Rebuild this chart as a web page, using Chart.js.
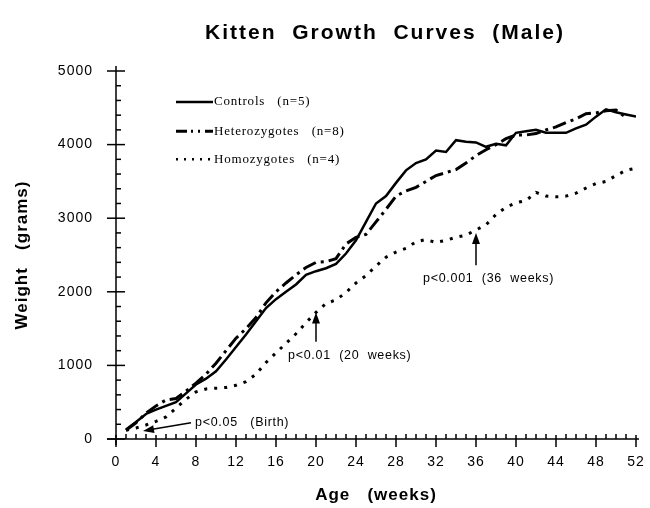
<!DOCTYPE html>
<html>
<head>
<meta charset="utf-8">
<script src="https://cdn.jsdelivr.net/npm/chart.js@4.4.1/dist/chart.umd.min.js"></script>
<style>
  body { margin: 0; background: #fff; }
</style>
</head>
<body>
<canvas id="chart" width="650" height="508"></canvas>
<script>
var weeks = [1, 2, 3, 4, 5, 6, 7, 8, 9, 10, 11, 12, 13, 14, 15, 16, 17, 18, 19, 20, 21, 22, 23, 24, 25, 26,
             27, 28, 29, 30, 31, 32, 33, 34, 35, 36, 37, 38, 39, 40, 41, 42, 43, 44, 45, 46, 47, 48, 49, 50, 51, 52];

var controls = [130, 230, 340, 400, 450, 500, 620, 740, 820, 920, 1080, 1250, 1420, 1600, 1780, 1900, 2000,
                2100, 2230, 2280, 2320, 2380, 2520, 2700, 2950, 3200, 3300, 3480, 3650, 3750, 3800, 3920,
                3900, 4060, 4040, 4030, 3970, 4010, 3990, 4160, 4180, 4200, 4160, 4160, 4160, 4220, 4270,
                4380, 4480, 4440, 4410, 4380];

var heterozygotes = [120, 220, 350, 450, 530, 550, 650, 760, 880, 1030, 1200, 1370, 1500, 1650, 1850, 2000,
                     2120, 2230, 2330, 2400, 2410, 2450, 2650, 2740, 2780, 2950, 3120, 3300, 3370, 3420, 3500,
                     3580, 3620, 3660, 3750, 3850, 3930, 4000, 4080, 4130, 4130, 4150, 4200, 4240, 4300, 4350,
                     4420, 4430, 4460, 4470, 4370, null];

var homozygotes = [120, 150, 190, 240, 300, 420, 540, 640, 680, 690, 700, 730, 780, 880, 1040, 1170, 1300,
                   1430, 1580, 1720, 1840, 1890, 1990, 2120, 2220, 2350, 2470, 2540, 2590, 2680, 2710, 2670,
                   2700, 2740, 2770, 2840, 2910, 3050, 3150, 3210, 3240, 3350, 3300, 3290, 3300, 3340, 3410,
                   3470, 3500, 3580, 3650, 3680];

var seriesNames = ['Controls   (n=5)', 'Heterozygotes   (n=8)', 'Homozygotes   (n=4)'];
var xTicks = [0, 4, 8, 12, 16, 20, 24, 28, 32, 36, 40, 44, 48, 52];
var yTicks = [0, 1000, 2000, 3000, 4000, 5000];

var solidDash = [];
var hetDash = [14, 5, 3, 5];
var homDash = [3, 7];

var sans = '"Liberation Sans", Arial, sans-serif';

function points(values) {
  return weeks.map(function (w, i) { return { x: w, y: values[i] }; });
}

function arrow(ctx, x1, y1, x2, y2) {
  var a = Math.atan2(y2 - y1, x2 - x1);
  ctx.beginPath();
  ctx.moveTo(x1, y1);
  ctx.lineTo(x2 - 8 * Math.cos(a), y2 - 8 * Math.sin(a));
  ctx.stroke();
  ctx.beginPath();
  ctx.moveTo(x2, y2);
  ctx.lineTo(x2 - 11 * Math.cos(a) + 4 * Math.sin(a), y2 - 11 * Math.sin(a) - 4 * Math.cos(a));
  ctx.lineTo(x2 - 11 * Math.cos(a) - 4 * Math.sin(a), y2 - 11 * Math.sin(a) + 4 * Math.cos(a));
  ctx.closePath();
  ctx.fill();
}

var decorations = {
  id: 'decorations',
  beforeDraw: function (chart) {
    // the original type is set loosely; carries into the axis labels
    chart.ctx.letterSpacing = '1px';
  },
  beforeDatasetsDraw: function (chart) {
    chart.ctx.letterSpacing = '0px';
  },
  afterDraw: function (chart) {
    var ctx = chart.ctx, xs = chart.scales.x, ys = chart.scales.y;
    var x0 = xs.getPixelForValue(0), y0 = ys.getPixelForValue(0);
    ctx.save();
    ctx.strokeStyle = '#000';
    ctx.fillStyle = '#000';
    ctx.lineWidth = 1.5;

    // axis lines
    ctx.beginPath();
    ctx.moveTo(x0, ys.getPixelForValue(5000) - 5);
    ctx.lineTo(x0, y0 + 6);
    ctx.moveTo(x0 - 9, y0);
    ctx.lineTo(xs.getPixelForValue(52) + 3, y0);
    ctx.stroke();

    // y ticks: major every 1000, minor every 200
    for (var v = 0; v <= 5000; v += 200) {
      var py = ys.getPixelForValue(v);
      ctx.beginPath();
      if (yTicks.indexOf(v) >= 0) {
        ctx.moveTo(x0 - 9, py); ctx.lineTo(x0 + 9, py);
      } else {
        ctx.moveTo(x0, py); ctx.lineTo(x0 + 5, py);
      }
      ctx.stroke();
    }
    // x ticks: major every 4 weeks, minor every week
    for (var w = 0; w <= 52; w++) {
      var px = xs.getPixelForValue(w);
      ctx.beginPath();
      if (xTicks.indexOf(w) >= 0) {
        ctx.moveTo(px, y0 - 4); ctx.lineTo(px, y0 + 8);
      } else {
        ctx.moveTo(px, y0); ctx.lineTo(px, y0 - 5);
      }
      ctx.stroke();
    }

    // title
    ctx.font = 'bold 21px ' + sans;
    ctx.letterSpacing = '2px';
    ctx.textAlign = 'center';
    ctx.textBaseline = 'middle';
    ctx.fillText('Kitten  Growth  Curves  (Male)', 385, 33);

    // legend
    var lx = xs.getPixelForValue(6);
    var ly = [ys.getPixelForValue(4580), ys.getPixelForValue(4180), ys.getPixelForValue(3800)];
    var dashes = [solidDash, [11, 4, 2, 5, 2, 5], [2, 6]];
    var widths = [2.5, 3, 2.5];
    ctx.font = '13px "Liberation Serif", "Times New Roman", serif';
    ctx.letterSpacing = '0.8px';
    ctx.textAlign = 'left';
    for (var i = 0; i < 3; i++) {
      ctx.beginPath();
      ctx.setLineDash(dashes[i]);
      ctx.lineWidth = widths[i];
      ctx.moveTo(lx, ly[i]);
      ctx.lineTo(lx + 37, ly[i]);
      ctx.stroke();
      ctx.setLineDash([]);
      ctx.fillText(seriesNames[i], lx + 38, ly[i]);
    }

    // significance notes
    ctx.lineWidth = 1.5;
    ctx.font = '12.5px ' + sans;
    ctx.letterSpacing = '0.7px';
    arrow(ctx, xs.getPixelForValue(7.5), ys.getPixelForValue(220), xs.getPixelForValue(2.7), ys.getPixelForValue(110));
    ctx.fillText('p<0.05   (Birth)', xs.getPixelForValue(7.9), ys.getPixelForValue(220));
    arrow(ctx, xs.getPixelForValue(20), ys.getPixelForValue(1320), xs.getPixelForValue(20), ys.getPixelForValue(1720));
    ctx.fillText('p<0.01  (20  weeks)', xs.getPixelForValue(17.2), ys.getPixelForValue(1140));
    arrow(ctx, xs.getPixelForValue(36), ys.getPixelForValue(2360), xs.getPixelForValue(36), ys.getPixelForValue(2800));
    ctx.fillText('p<0.001  (36  weeks)', xs.getPixelForValue(30.7), ys.getPixelForValue(2180));
    ctx.restore();
    ctx.letterSpacing = '0px';
  }
};

new Chart(document.getElementById('chart'), {
  type: 'line',
  data: {
    datasets: [
      { label: seriesNames[0], data: points(controls), borderColor: '#000', borderWidth: 2.5, borderDash: solidDash },
      { label: seriesNames[1], data: points(heterozygotes), borderColor: '#000', borderWidth: 3, borderDash: hetDash },
      { label: seriesNames[2], data: points(homozygotes), borderColor: '#000', borderWidth: 3, borderDash: homDash }
    ]
  },
  options: {
    responsive: false,
    animation: false,
    devicePixelRatio: 1,
    elements: { point: { radius: 0 }, line: { tension: 0, fill: false } },
    layout: { padding: { top: 71, right: 14, bottom: 0, left: 0 } },
    plugins: { legend: { display: false }, title: { display: false }, tooltip: { enabled: false } },
    scales: {
      x: {
        type: 'linear', min: 0, max: 52,
        afterBuildTicks: function (s) { s.ticks = xTicks.map(function (v) { return { value: v }; }); },
        afterFit: function (s) { s.height = 69; s.paddingLeft = 0; s.paddingRight = 0; },
        grid: { display: false, drawTicks: false },
        border: { display: false },
        ticks: { color: '#000', padding: 15, maxRotation: 0, autoSkip: false,
                 callback: function (v) { return String(v); },
                 font: { family: sans, size: 14 } },
        title: { display: true, text: 'Age   (weeks)', color: '#000', padding: { top: 0, bottom: 2 },
                 font: { family: sans, size: 17, weight: 'bold' } }
      },
      y: {
        min: 0, max: 5000,
        afterBuildTicks: function (s) { s.ticks = yTicks.map(function (v) { return { value: v }; }); },
        afterFit: function (s) { s.width = 116; },
        grid: { display: false, drawTicks: false },
        border: { display: false },
        ticks: { color: '#000', padding: 23,
                 callback: function (v) { return String(v); },
                 font: { family: sans, size: 14 } },
        title: { display: true, text: 'Weight   (grams)', color: '#000', padding: { top: 12, bottom: 0 },
                 font: { family: sans, size: 17, weight: 'bold' } }
      }
    }
  },
  plugins: [decorations]
});
</script>
</body>
</html>
